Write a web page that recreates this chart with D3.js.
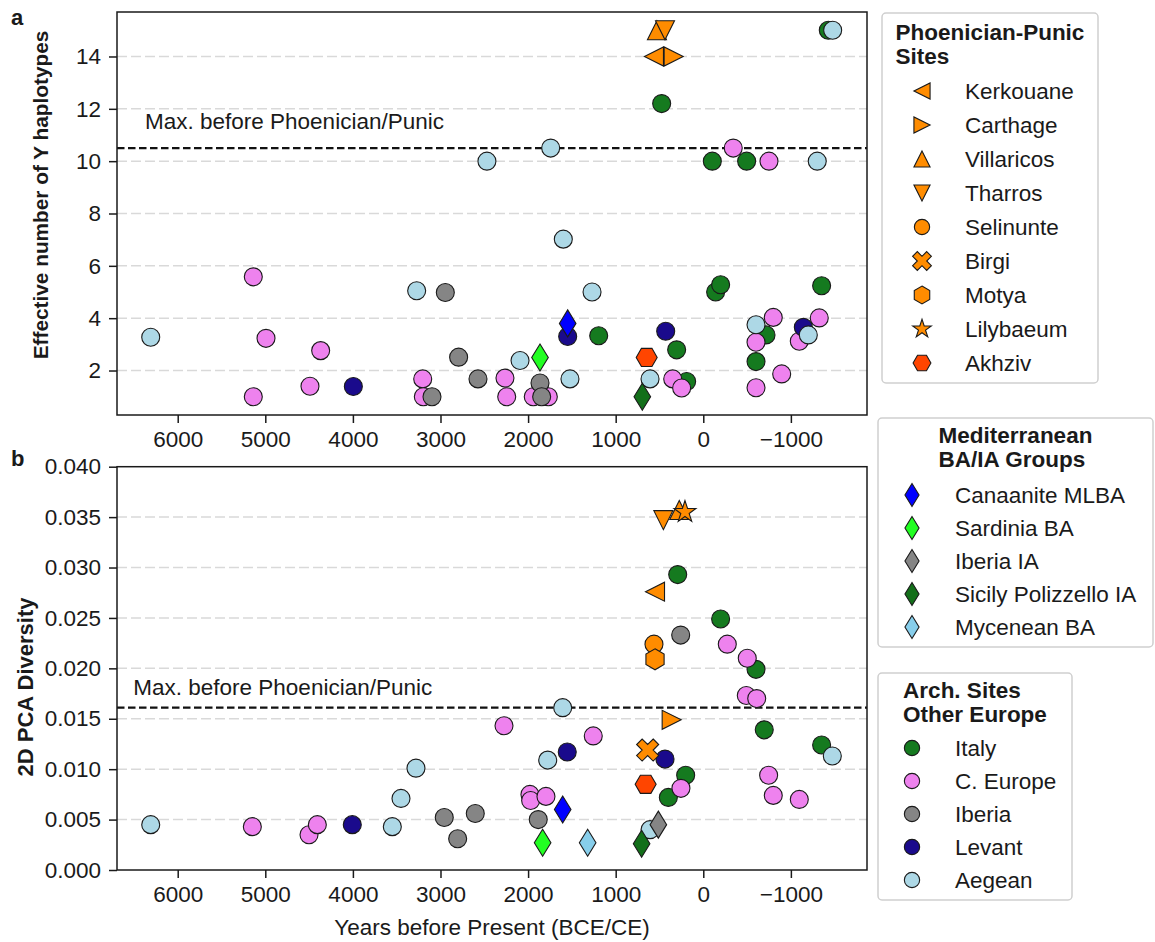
<!DOCTYPE html>
<html>
<head>
<meta charset="utf-8">
<script src="https://cdn.jsdelivr.net/npm/d3@7"></script>
<style>
  body { margin: 0; background: #fff; }
  svg text { font-family: "Liberation Sans", Arial, "DejaVu Sans", sans-serif; fill: #1a1a1a; }
</style>
</head>
<body>
<svg id="fig" width="1155" height="942"></svg>
<script>
// ---------- categories ----------
const phoenicianSites = ["Kerkouane", "Carthage", "Villaricos", "Tharros", "Selinunte", "Birgi", "Motya", "Lilybaeum", "Akhziv"];
const mediterraneanGroups = ["Canaanite MLBA", "Sardinia BA", "Iberia IA", "Sicily Polizzello IA", "Mycenean BA"];
const otherEuropeSites = ["Italy", "C. Europe", "Iberia", "Levant", "Aegean"];

// ---------- axis ticks ----------
const yearTicks = [6000, 5000, 4000, 3000, 2000, 1000, 0, -1000];
const hapTicks = [2, 4, 6, 8, 10, 12, 14];
const pcaTicks = [0, 0.005, 0.01, 0.015, 0.02, 0.025, 0.03, 0.035, 0.04];

// ---------- panel a: effective number of Y haplotypes, [years BP, value] ----------
const hapKerkouane = [[563, 14]];
const hapCarthage = [[338, 14]];
const hapVillaricos = [[529, 15]];
const hapTharros = [[437, 15]];
const hapAkhziv = [[646, 2.5]];
const hapCanaanite = [[1548, 3.8]];
const hapSardinia = [[1864, 2.5]];
const hapSicilyPolizzello = [[696, 1.0]];
const hapItaly = [[1194, 3.33], [475, 12.2], [304, 2.79], [190, 1.58], [-103, 10], [-495, 10], [-1427, 15],
  [-141, 5.0], [-198, 5.28], [-1351, 5.24], [-716, 3.36], [-602, 2.34]];
const hapCEurope = [[5137, 5.58], [4992, 3.23], [4368, 2.76], [4490, 1.4], [5137, 1.0], [3203, 1.68], [3196, 1.0],
  [2264, 1.71], [2244, 1.0], [1941, 1.0], [1769, 1.0], [349, 1.68], [247, 1.33], [-342, 10.5], [-750, 10],
  [-799, 4.03], [-602, 3.08], [-602, 1.34], [-895, 1.87], [-1096, 3.12], [-1324, 4.01]];
const hapIberia = [[2945, 4.98], [3097, 1.0], [2793, 2.51], [2572, 1.68], [1864, 1.52], [1845, 1.0]];
const hapLevant = [[3995, 1.39], [1548, 3.3], [429, 3.5], [-1142, 3.65]];
const hapAegean = [[6308, 3.27], [3272, 5.05], [2470, 10], [1742, 10.5], [1598, 7.02], [1270, 5.0], [2092, 2.38],
  [1522, 1.68], [608, 1.68], [-1301, 10], [-1477, 15], [-602, 3.75], [-1199, 3.36]];
const hapMaxBefore = 10.5;

// ---------- panel b: 2D PCA diversity, [years BP, value] ----------
const pcaKerkouane = [[551, 0.0276]];
const pcaCarthage = [[361, 0.0149]];
const pcaVillaricos = [[274, 0.0357]];
const pcaTharros = [[456, 0.0347]];
const pcaSelinunte = [[563, 0.0224]];
const pcaBirgi = [[635, 0.0119]];
const pcaMotya = [[551, 0.0209]];
const pcaLilybaeum = [[209, 0.0355]];
const pcaAkhziv = [[658, 0.0085]];
const pcaCanaanite = [[1605, 0.006]];
const pcaSardinia = [[1834, 0.0027]];
const pcaIberiaIA = [[513, 0.0045]];
const pcaSicilyPolizzello = [[704, 0.0026]];
const pcaMycenean = [[1320, 0.0027]];
const pcaItaly = [[201, 0.0094], [399, 0.0072], [292, 0.0293], [-198, 0.0249], [-602, 0.0199], [-696, 0.0139], [-1351, 0.0124]];
const pcaCEurope = [[5148, 0.0043], [4501, 0.0035], [4406, 0.0045], [2275, 0.0143], [1256, 0.0133], [1979, 0.0075],
  [1971, 0.0069], [1796, 0.0073], [255, 0.0081], [-274, 0.0224], [-502, 0.021], [-491, 0.0173], [-610, 0.017],
  [-746, 0.0094], [-799, 0.0074], [-1096, 0.007]];
const pcaIberia = [[2957, 0.0052], [2804, 0.0031], [2603, 0.0056], [1884, 0.005], [258, 0.0233]];
const pcaLevant = [[4007, 0.0045], [1553, 0.0117], [437, 0.011]];
const pcaAegean = [[6308, 0.0045], [3550, 0.0043], [3451, 0.0071], [3280, 0.0101], [1605, 0.0161], [1776, 0.0109],
  [608, 0.004], [-1473, 0.0113]];
const pcaMaxBefore = 0.0161;

// ---------- marker styles per group ----------
const style = {
  "Kerkouane": { shape: "<", fill: "#ff8c00" },
  "Carthage": { shape: ">", fill: "#ff8c00" },
  "Villaricos": { shape: "^", fill: "#ff8c00" },
  "Tharros": { shape: "v", fill: "#ff8c00" },
  "Selinunte": { shape: "o", fill: "#ff8c00" },
  "Birgi": { shape: "X", fill: "#ff8c00" },
  "Motya": { shape: "h", fill: "#ff8c00" },
  "Lilybaeum": { shape: "*", fill: "#ff8c00" },
  "Akhziv": { shape: "H", fill: "#ff4500" },
  "Canaanite MLBA": { shape: "d", fill: "#0000ff" },
  "Sardinia BA": { shape: "d", fill: "#22ff22" },
  "Iberia IA": { shape: "d", fill: "#858585" },
  "Sicily Polizzello IA": { shape: "d", fill: "#136f1a" },
  "Mycenean BA": { shape: "d", fill: "#87ceeb" },
  "Italy": { shape: "o", fill: "#157a1f" },
  "C. Europe": { shape: "o", fill: "#ee82ee" },
  "Iberia": { shape: "o", fill: "#858585" },
  "Levant": { shape: "o", fill: "#1a0a8c" },
  "Aegean": { shape: "o", fill: "#add8e6" }
};

// drawing order: other-Europe circles, then BA/IA diamonds, then Phoenician-Punic sites
const panelA = [
  ["Italy", hapItaly], ["C. Europe", hapCEurope], ["Iberia", hapIberia], ["Levant", hapLevant], ["Aegean", hapAegean],
  ["Canaanite MLBA", hapCanaanite], ["Sardinia BA", hapSardinia], ["Sicily Polizzello IA", hapSicilyPolizzello],
  ["Kerkouane", hapKerkouane], ["Carthage", hapCarthage], ["Villaricos", hapVillaricos], ["Tharros", hapTharros],
  ["Akhziv", hapAkhziv]
];
const panelB = [
  ["Italy", pcaItaly], ["C. Europe", pcaCEurope], ["Iberia", pcaIberia], ["Levant", pcaLevant], ["Aegean", pcaAegean],
  ["Canaanite MLBA", pcaCanaanite], ["Sardinia BA", pcaSardinia], ["Iberia IA", pcaIberiaIA],
  ["Sicily Polizzello IA", pcaSicilyPolizzello], ["Mycenean BA", pcaMycenean],
  ["Kerkouane", pcaKerkouane], ["Carthage", pcaCarthage], ["Villaricos", pcaVillaricos], ["Tharros", pcaTharros],
  ["Selinunte", pcaSelinunte], ["Birgi", pcaBirgi], ["Motya", pcaMotya], ["Lilybaeum", pcaLilybaeum], ["Akhziv", pcaAkhziv]
];

// ---------- marker geometry ----------
function markerPath(shape, k) {
  const pts = [];
  const poly = p => "M" + p.map(q => q[0].toFixed(2) + "," + q[1].toFixed(2)).join("L") + "Z";
  switch (shape) {
    case "o": return d3.symbol(d3.symbolCircle, Math.PI * Math.pow(9 * k, 2))();
    case "^": { const r = 9.5 * k; return poly([[0, -r], [r, r], [-r, r]]); }
    case "v": { const r = 9.5 * k; return poly([[0, r], [r, -r], [-r, -r]]); }
    case "<": { const r = 9.5 * k; return poly([[-r, 0], [r, -r], [r, r]]); }
    case ">": { const r = 9.5 * k; return poly([[r, 0], [-r, -r], [-r, r]]); }
    case "d": { const h = 13.5 * k, w = 8.3 * k; return poly([[0, -h], [w, 0], [0, h], [-w, 0]]); }
    case "h": case "H": {
      const R = 10.5 * k, a0 = shape === "h" ? -Math.PI / 2 : 0;
      for (let i = 0; i < 6; i++) pts.push([R * Math.cos(a0 + i * Math.PI / 3), R * Math.sin(a0 + i * Math.PI / 3)]);
      return poly(pts);
    }
    case "*": {
      const R = 11.5 * k, r = R * 0.381966;
      for (let i = 0; i < 10; i++) {
        const a = -Math.PI / 2 + i * Math.PI / 5, rr = i % 2 ? r : R;
        pts.push([rr * Math.cos(a), rr * Math.sin(a)]);
      }
      return poly(pts);
    }
    case "X": {
      const e = 11.7 * k, w = e / 3;
      const plus = [[-w, -e], [w, -e], [w, -w], [e, -w], [e, w], [w, w], [w, e], [-w, e], [-w, w], [-e, w], [-e, -w], [-w, -w]];
      const c = Math.SQRT1_2;
      return poly(plus.map(([px, py]) => [c * (px - py), c * (px + py)]));
    }
  }
}

// ---------- layout ----------
const svg = d3.select("#fig");
const X0 = 117, X1 = 867;
const x = d3.scaleLinear().domain([6693, -1869]).range([X0, X1]);
const yA = d3.scaleLinear().domain([0.3, 15.7]).range([415, 12]);
const yB = d3.scaleLinear().domain([0, 0.04]).range([870, 466.7]);
const fmtYear = d => d < 0 ? "\u2212" + Math.abs(d) : String(d);
const FS = 22.5;

function drawPanel(y, yTicks, yFmt, series, maxVal, labelPos) {
  const top = y.range()[1], bot = y.range()[0];
  const g = svg.append("g");

  // horizontal grid
  g.append("g").selectAll("line")
    .data(yTicks.filter(t => y(t) > top + 1 && y(t) < bot - 1))
    .join("line")
    .attr("x1", X0).attr("x2", X1)
    .attr("y1", d => y(d)).attr("y2", d => y(d))
    .attr("stroke", "#d9d9d9").attr("stroke-width", 1.5)
    .attr("stroke-dasharray", "10,4");

  // threshold line: maximum before Phoenician/Punic period
  g.append("line")
    .attr("x1", X0).attr("x2", X1)
    .attr("y1", y(maxVal)).attr("y2", y(maxVal))
    .attr("stroke", "#111").attr("stroke-width", 2.2)
    .attr("stroke-dasharray", "7.5,3.5");
  g.append("text")
    .attr("x", x(labelPos[0])).attr("y", y(labelPos[1]))
    .attr("font-size", FS)
    .text("Max. before Phoenician/Punic");

  // markers
  series.forEach(([name, pts]) => {
    const st = style[name];
    g.append("g").selectAll("path")
      .data(pts)
      .join("path")
      .attr("transform", d => `translate(${x(d[0])},${y(d[1])})`)
      .attr("d", markerPath(st.shape, 1))
      .attr("fill", st.fill)
      .attr("stroke", "#1a1a1a")
      .attr("stroke-width", 1.1);
  });

  // axes
  const ax = g.append("g").attr("transform", `translate(0,${bot})`)
    .call(d3.axisBottom(x).tickValues(yearTicks).tickFormat(fmtYear).tickSize(8).tickPadding(8));
  const ay = g.append("g").attr("transform", `translate(${X0},0)`)
    .call(d3.axisLeft(y).tickValues(yTicks).tickFormat(yFmt).tickSize(8).tickPadding(8));
  [ax, ay].forEach(a => {
    a.select(".domain").remove();
    a.selectAll(".tick line").attr("stroke", "#1a1a1a").attr("stroke-width", 1.5);
    a.selectAll(".tick text").attr("font-size", FS).attr("fill", "#1a1a1a")
      .style("font-family", '"Liberation Sans", Arial, sans-serif');
  });

  // frame
  g.append("rect")
    .attr("x", X0).attr("y", top).attr("width", X1 - X0).attr("height", bot - top)
    .attr("fill", "none").attr("stroke", "#1a1a1a").attr("stroke-width", 1.5);
}

drawPanel(yA, hapTicks, d3.format("d"), panelA, hapMaxBefore, [6373, 11.22]);
drawPanel(yB, pcaTicks, d3.format(".3f"), panelB, pcaMaxBefore, [6507, 0.01736]);

// axis labels and panel letters
svg.append("text").attr("transform", "translate(48,195) rotate(-90)")
  .attr("text-anchor", "middle").attr("font-size", 20.8).attr("font-weight", "bold").text("Effective number of Y haplotypes");
svg.append("text").attr("transform", "translate(33,687) rotate(-90)")
  .attr("text-anchor", "middle").attr("font-size", 22).attr("font-weight", "bold").text("2D PCA Diversity");
svg.append("text").attr("x", (X0 + X1) / 2).attr("y", 935)
  .attr("text-anchor", "middle").attr("font-size", FS).text("Years before Present (BCE/CE)");
svg.append("text").attr("x", 11).attr("y", 25).attr("font-size", 22).attr("font-weight", "bold").text("a");
svg.append("text").attr("x", 11).attr("y", 466).attr("font-size", 22).attr("font-weight", "bold").text("b");

// ---------- legends ----------
function drawLegend(box, titleLines, titleBaselines, names, rowYs, markerX, textX) {
  const g = svg.append("g");
  g.append("rect")
    .attr("x", box.x).attr("y", box.y).attr("width", box.w).attr("height", box.h)
    .attr("rx", 4).attr("fill", "#fff").attr("fill-opacity", 0.85)
    .attr("stroke", "#cfcfcf").attr("stroke-width", 1.5);
  const tt = titleLines.map((t, i) => g.append("text")
    .attr("y", titleBaselines[i]).attr("font-size", FS).attr("font-weight", "bold").text(t));
  const maxW = d3.max(tt, t => t.node().getComputedTextLength());
  const left = box.x + box.w / 2 - maxW / 2;
  tt.forEach(t => t.attr("x", left));
  names.forEach((n, i) => {
    const st = style[n];
    g.append("path")
      .attr("transform", `translate(${markerX},${rowYs[i]})`)
      .attr("d", markerPath(st.shape, 0.85))
      .attr("fill", st.fill).attr("stroke", "#1a1a1a").attr("stroke-width", 1.1);
    g.append("text").attr("x", textX).attr("y", rowYs[i] + 8).attr("font-size", FS).text(n);
  });
}

drawLegend({ x: 882, y: 13, w: 216, h: 370 }, ["Phoenician-Punic", "Sites"], [40, 64],
  phoenicianSites, [91, 125, 159, 193, 227, 261, 295, 329, 363], 922, 965);
drawLegend({ x: 878, y: 418, w: 275, h: 229 }, ["Mediterranean", "BA/IA Groups"], [443, 467],
  mediterraneanGroups, [495, 528, 561, 594, 627], 912, 955);
drawLegend({ x: 878, y: 673, w: 194, h: 227 }, ["Arch. Sites", "Other Europe"], [698, 722],
  otherEuropeSites, [748, 781, 814, 847, 880], 912, 955);
</script>
</body>
</html>
